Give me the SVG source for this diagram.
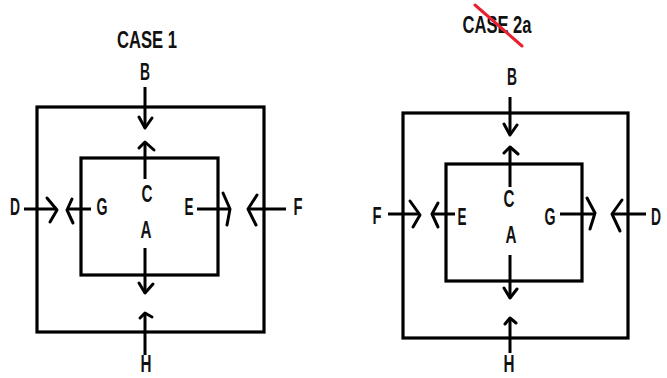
<svg xmlns="http://www.w3.org/2000/svg" width="667" height="378" viewBox="0 0 667 378">
<style>
.box{fill:none;stroke:#000;stroke-width:3.2}
.ln{fill:none;stroke:#000;stroke-width:3;stroke-linecap:butt}
.hd{fill:none;stroke:#000;stroke-width:3;stroke-linecap:round;stroke-linejoin:round}
.t{font-family:"Liberation Sans Narrow","Liberation Sans",Arial,sans-serif;font-weight:bold;font-size:24px;fill:#111;text-anchor:middle}
</style>
<rect width="667" height="378" fill="#fff"/>
<g id="case1">
  <g id="c1-outer"><rect class="box" x="37" y="107" width="227" height="225"/></g>
  <g id="c1-inner"><rect class="box" x="81" y="158" width="137" height="117"/></g>
  <g id="c1-title"><text class="t" x="147" y="48" textLength="60" lengthAdjust="spacingAndGlyphs">CASE 1</text></g>
  <g id="c1-B"><text class="t" x="145" y="80" textLength="10" lengthAdjust="spacingAndGlyphs">B</text></g>
  <g id="c1-C"><text class="t" x="147" y="202" textLength="11" lengthAdjust="spacingAndGlyphs">C</text></g>
  <g id="c1-A"><text class="t" x="146" y="238" textLength="11" lengthAdjust="spacingAndGlyphs">A</text></g>
  <g id="c1-H"><text class="t" x="146" y="372" textLength="11" lengthAdjust="spacingAndGlyphs">H</text></g>
  <g id="c1-D"><text class="t" x="15" y="215" textLength="10" lengthAdjust="spacingAndGlyphs">D</text></g>
  <g id="c1-G"><text class="t" x="102" y="215" textLength="11" lengthAdjust="spacingAndGlyphs">G</text></g>
  <g id="c1-E"><text class="t" x="189" y="215" textLength="9" lengthAdjust="spacingAndGlyphs">E</text></g>
  <g id="c1-F"><text class="t" x="298" y="215" textLength="9" lengthAdjust="spacingAndGlyphs">F</text></g>
</g>
<g id="case2a">
  <g id="c2-outer"><rect class="box" x="403" y="113" width="225" height="225"/></g>
  <g id="c2-inner"><rect class="box" x="446" y="164" width="136" height="117"/></g>
  <g id="c2-title"><text class="t" x="497" y="33" textLength="69" lengthAdjust="spacingAndGlyphs">CASE 2a</text>
    <line x1="475" y1="5" x2="522" y2="46" stroke="#e8202f" stroke-width="3" stroke-linecap="round"/></g>
  <g id="c2-B"><text class="t" x="512" y="85" textLength="10" lengthAdjust="spacingAndGlyphs">B</text></g>
  <g id="c2-C"><text class="t" x="509" y="207" textLength="11" lengthAdjust="spacingAndGlyphs">C</text></g>
  <g id="c2-A"><text class="t" x="511" y="243" textLength="11" lengthAdjust="spacingAndGlyphs">A</text></g>
  <g id="c2-H"><text class="t" x="509" y="372" textLength="11" lengthAdjust="spacingAndGlyphs">H</text></g>
  <g id="c2-F"><text class="t" x="377" y="224" textLength="9" lengthAdjust="spacingAndGlyphs">F</text></g>
  <g id="c2-E"><text class="t" x="462" y="225" textLength="9" lengthAdjust="spacingAndGlyphs">E</text></g>
  <g id="c2-G"><text class="t" x="550" y="225" textLength="11" lengthAdjust="spacingAndGlyphs">G</text></g>
  <g id="c2-D"><text class="t" x="656" y="225" textLength="10" lengthAdjust="spacingAndGlyphs">D</text></g>
</g>
<g id="connectors">
  <line class="ln" x1="145" y1="87" x2="145" y2="128"/>
  <polyline class="hd" points="139,117 145,128 152,118"/>
  <line class="ln" x1="145" y1="179" x2="145" y2="142"/>
  <polyline class="hd" points="139,148 145,142 154,150"/>
  <line class="ln" x1="145" y1="248" x2="145" y2="293"/>
  <polyline class="hd" points="139,283 145,293 153,284"/>
  <line class="ln" x1="145" y1="355" x2="145" y2="313"/>
  <polyline class="hd" points="140,318 145,313 152,317"/>
  <line class="ln" x1="24" y1="209" x2="57" y2="209"/>
  <polyline class="hd" points="47,198 57,210 50,222"/>
  <line class="ln" x1="91" y1="209" x2="67" y2="209"/>
  <polyline class="hd" points="72,199 67,210 73,223"/>
  <line class="ln" x1="197" y1="209" x2="230" y2="209"/>
  <polyline class="hd" points="223,193 230,209 227,225"/>
  <line class="ln" x1="286" y1="209" x2="248" y2="209"/>
  <polyline class="hd" points="257,195 248,209 256,225"/>
  <line class="ln" x1="510" y1="97" x2="510" y2="135"/>
  <polyline class="hd" points="504,124 510,135 517,125"/>
  <line class="ln" x1="510" y1="187" x2="510" y2="147"/>
  <polyline class="hd" points="504,153 510,147 518,154"/>
  <line class="ln" x1="510" y1="255" x2="510" y2="298"/>
  <polyline class="hd" points="504,288 510,298 517,289"/>
  <line class="ln" x1="510" y1="353" x2="510" y2="318"/>
  <polyline class="hd" points="505,324 510,318 516,323"/>
  <line class="ln" x1="388" y1="214" x2="420" y2="214"/>
  <polyline class="hd" points="410,201 420,215 413,227"/>
  <line class="ln" x1="455" y1="214" x2="432" y2="214"/>
  <polyline class="hd" points="438,203 432,214 438,227"/>
  <line class="ln" x1="560" y1="214" x2="595" y2="214"/>
  <polyline class="hd" points="587,198 595,213 590,229"/>
  <line class="ln" x1="646" y1="214" x2="612" y2="214"/>
  <polyline class="hd" points="622,200 612,214 620,231"/>
</g>
</svg>
